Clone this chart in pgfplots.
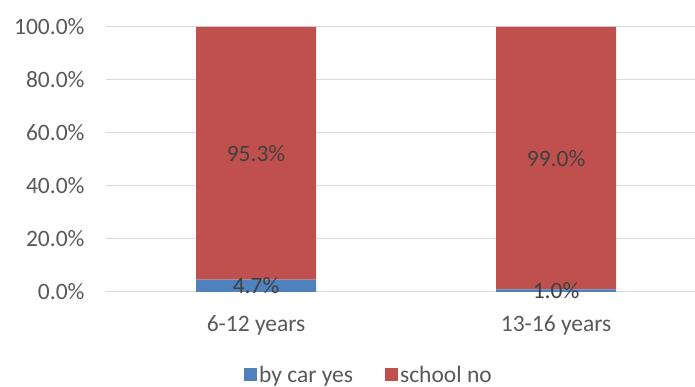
\documentclass[border=0pt]{standalone}
\usepackage{pgfplots}
\pgfplotsset{compat=1.18}
\usepackage{fontspec}
\setmainfont{Carlito}
\definecolor{barblue}{HTML}{4F81BD}
\definecolor{barred}{HTML}{C0504D}
\definecolor{gridgray}{HTML}{D9D9D9}
\definecolor{ticktext}{HTML}{595959}
\definecolor{labeltext}{HTML}{404040}
\newcommand\chartfont{\fontsize{23.5pt}{27pt}\selectfont}

\begin{document}
\begin{tikzpicture}
\path[use as bounding box] (0,0) rectangle (695pt,387pt);
\begin{axis}[
  at={(106pt,95pt)}, anchor=south west,
  scale only axis, width=589pt, height=265pt,
  ybar stacked, bar width=120pt,
  xmin=-0.5, xmax=1.463,
  ymin=0, ymax=100,
  xtick=data, xticklabels={6-12 years,13-16 years},
  ytick={0,20,...,100},
  yticklabel={\pgfmathprintnumber[fixed,fixed zerofill,precision=1]{\tick}\%},
  /pgf/number format/assume math mode=true,
  axis line style={draw=none},
  major tick length=0pt,
  ymajorgrids, grid style={gridgray, line width=1pt},
  tick label style={font=\chartfont, text=ticktext},
  yticklabel style={xshift=-18pt},
  xticklabel style={yshift=-20pt},
  visualization depends on=rawy \as \rawy,
  nodes near coords={\pgfmathprintnumber[fixed,fixed zerofill,precision=1]{\rawy}\%},
  % anchored at the centre, each label sits in the middle of its segment
  every node near coord/.append style={font=\chartfont, text=labeltext, anchor=center},
  legend style={at={(axis description cs:0.4465,-0.313)}, anchor=center, draw=none,
    font=\chartfont, text=ticktext, legend columns=2,
    /tikz/every even column/.append style={column sep=30pt}},
  legend image code/.code={\fill[#1] (0pt,-6.5pt) rectangle (13pt,6.5pt);},
]
\addplot[fill=barblue, draw=none] coordinates {(0,4.7) (1,1.0)};
\addplot[fill=barred, draw=none] coordinates {(0,95.3) (1,99.0)};
\legend{by car yes, school no}
\end{axis}
\end{tikzpicture}
\end{document}
